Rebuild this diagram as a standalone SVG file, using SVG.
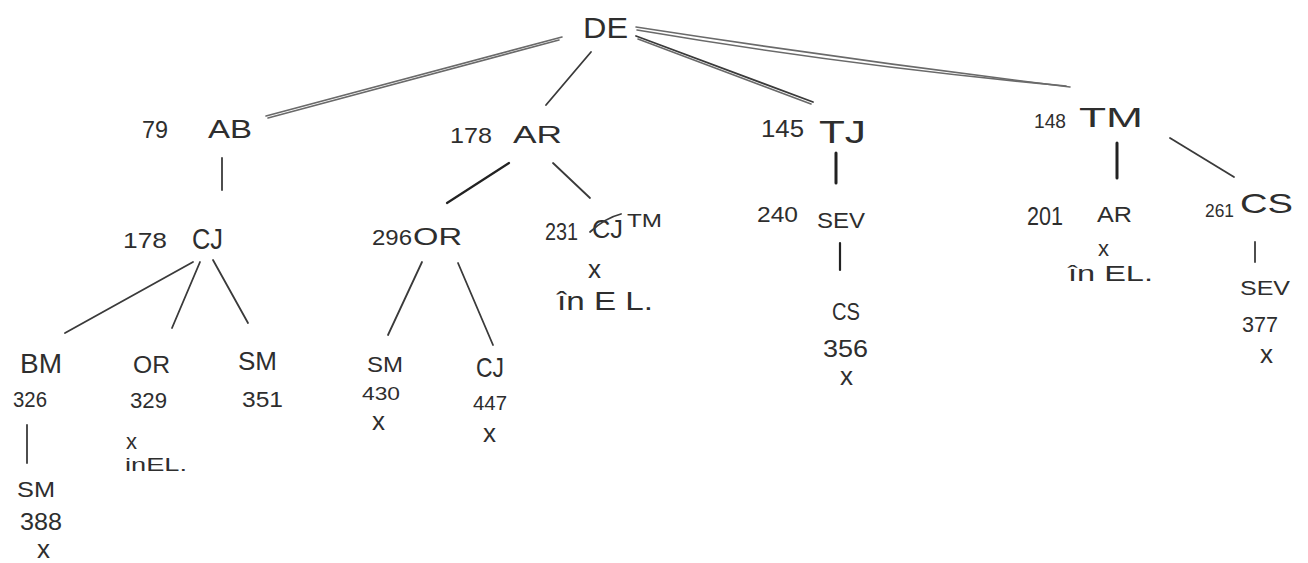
<svg xmlns="http://www.w3.org/2000/svg" width="1308" height="563" viewBox="0 0 1308 563">
<style>
text{font-family:"Liberation Sans","DejaVu Sans",sans-serif;fill:#2e2e2e;}
.e{stroke:#3a3a3a;stroke-width:1.8;fill:none;stroke-linecap:round;}
.g{stroke:#6a6a6a;stroke-width:1.6;fill:none;stroke-linecap:round;}
.t{stroke:#222;stroke-width:3;fill:none;stroke-linecap:round;}
</style>
<rect width="1308" height="563" fill="#fff"/>
<g id="connectors">
<path class="g" d="M562 37 L266 116"/>
<path class="g" d="M559 40 L268 118"/>
<path class="e" d="M591 52 L546 105"/>
<path class="g" d="M636 27 Q850 60 1070 87"/>
<path class="g" d="M637 30 Q850 66 1066 86"/>
<path class="e" d="M636 36 L813 102"/>
<path class="g" d="M638 39 L811 104"/>
<path class="t" d="M836 153 L836 183"/>
<path class="t" d="M1117 143 L1117 178"/>
<path class="e" d="M1170 138 L1234 177"/>
<path class="e" d="M222 158 L222 190"/>
<path class="t" d="M509 163 L447 203" style="stroke-width:2.2"/>
<path class="e" d="M553 163 L590 198"/>
<path class="e" d="M193 262 L65 333"/>
<path class="e" d="M200 262 L172 328"/>
<path class="e" d="M213 260 L248 323"/>
<path class="e" d="M422 262 L388 335"/>
<path class="e" d="M458 263 L493 345"/>
<path class="t" d="M840 243 L840 270" style="stroke-width:2.2"/>
<path class="e" d="M1255 242 L1255 262"/>
<path class="e" d="M27 425 L27 463"/>
</g>
<g id="DE"><text x="583" y="38" font-size="30" textLength="45" lengthAdjust="spacingAndGlyphs">DE</text></g>
<g id="AB"><text x="142" y="138" font-size="24" textLength="26" lengthAdjust="spacingAndGlyphs">79</text><text x="208" y="138" font-size="25" textLength="44" lengthAdjust="spacingAndGlyphs">AB</text></g>
<g id="AR"><text x="450" y="143" font-size="22" textLength="42" lengthAdjust="spacingAndGlyphs">178</text><text x="513" y="143" font-size="24" textLength="49" lengthAdjust="spacingAndGlyphs">AR</text></g>
<g id="TJ"><text x="761" y="137" font-size="24" textLength="43" lengthAdjust="spacingAndGlyphs">145</text><text x="819" y="143" font-size="32" textLength="47" lengthAdjust="spacingAndGlyphs">TJ</text></g>
<g id="TM"><text x="1034" y="128" font-size="20" textLength="32" lengthAdjust="spacingAndGlyphs">148</text><text x="1079" y="127" font-size="28" textLength="64" lengthAdjust="spacingAndGlyphs">TM</text></g>
<g id="CJ"><text x="123" y="248" font-size="22" textLength="44" lengthAdjust="spacingAndGlyphs">178</text><text x="192" y="249" font-size="30" textLength="31" lengthAdjust="spacingAndGlyphs">CJ</text></g>
<g id="OR"><text x="372" y="245" font-size="22" textLength="40" lengthAdjust="spacingAndGlyphs">296</text><text x="413" y="245" font-size="24" textLength="49" lengthAdjust="spacingAndGlyphs">OR</text></g>
<g id="CJTM"><text x="545" y="240" font-size="24" textLength="33" lengthAdjust="spacingAndGlyphs">231</text><text x="592" y="238" font-size="26" textLength="31" lengthAdjust="spacingAndGlyphs">CJ</text><path class="e" d="M590 232 Q605 218 621 214"/><text x="627" y="227" font-size="18" textLength="35" lengthAdjust="spacingAndGlyphs">TM</text><text x="588" y="278" font-size="26">x</text><text x="557" y="310" font-size="26" textLength="96" lengthAdjust="spacingAndGlyphs">în E L.</text></g>
<g id="SEV"><text x="757" y="222" font-size="22" textLength="41" lengthAdjust="spacingAndGlyphs">240</text><text x="817" y="228" font-size="22" textLength="48" lengthAdjust="spacingAndGlyphs">SEV</text></g>
<g id="CS356"><text x="832" y="320" font-size="24" textLength="28" lengthAdjust="spacingAndGlyphs">CS</text><text x="823" y="357" font-size="24" textLength="45" lengthAdjust="spacingAndGlyphs">356</text><text x="840" y="385" font-size="26">x</text></g>
<g id="AR201"><text x="1027" y="225" font-size="26" textLength="36" lengthAdjust="spacingAndGlyphs">201</text><text x="1097" y="222" font-size="22" textLength="35" lengthAdjust="spacingAndGlyphs">AR</text><text x="1098" y="256" font-size="22">x</text><text x="1068" y="281" font-size="22" textLength="85" lengthAdjust="spacingAndGlyphs">în EL.</text></g>
<g id="CS261"><text x="1205" y="217" font-size="18" textLength="29" lengthAdjust="spacingAndGlyphs">261</text><text x="1240" y="213" font-size="28" textLength="53" lengthAdjust="spacingAndGlyphs">CS</text></g>
<g id="SEV377"><text x="1240" y="295" font-size="20" textLength="50" lengthAdjust="spacingAndGlyphs">SEV</text><text x="1242" y="332" font-size="22" textLength="36" lengthAdjust="spacingAndGlyphs">377</text><text x="1260" y="363" font-size="26">x</text></g>
<g id="BM"><text x="20" y="373" font-size="28" textLength="42" lengthAdjust="spacingAndGlyphs">BM</text><text x="13" y="407" font-size="22" textLength="34" lengthAdjust="spacingAndGlyphs">326</text></g>
<g id="OR329"><text x="133" y="373" font-size="24" textLength="37" lengthAdjust="spacingAndGlyphs">OR</text><text x="130" y="408" font-size="22" textLength="37" lengthAdjust="spacingAndGlyphs">329</text><text x="126" y="449" font-size="22">x</text><text x="125" y="471" font-size="18" textLength="62" lengthAdjust="spacingAndGlyphs">inEL.</text></g>
<g id="SM351"><text x="238" y="370" font-size="26" textLength="39" lengthAdjust="spacingAndGlyphs">SM</text><text x="242" y="407" font-size="22" textLength="41" lengthAdjust="spacingAndGlyphs">351</text></g>
<g id="SM430"><text x="367" y="372" font-size="22" textLength="36" lengthAdjust="spacingAndGlyphs">SM</text><text x="362" y="400" font-size="18" textLength="38" lengthAdjust="spacingAndGlyphs">430</text><text x="372" y="430" font-size="26">x</text></g>
<g id="CJ447"><text x="476" y="377" font-size="28" textLength="28" lengthAdjust="spacingAndGlyphs">CJ</text><text x="473" y="410" font-size="20" textLength="34" lengthAdjust="spacingAndGlyphs">447</text><text x="483" y="442" font-size="26">x</text></g>
<g id="SM388"><text x="17" y="497" font-size="22" textLength="38" lengthAdjust="spacingAndGlyphs">SM</text><text x="20" y="530" font-size="24" textLength="42" lengthAdjust="spacingAndGlyphs">388</text><text x="37" y="558" font-size="26">x</text></g>
</svg>
